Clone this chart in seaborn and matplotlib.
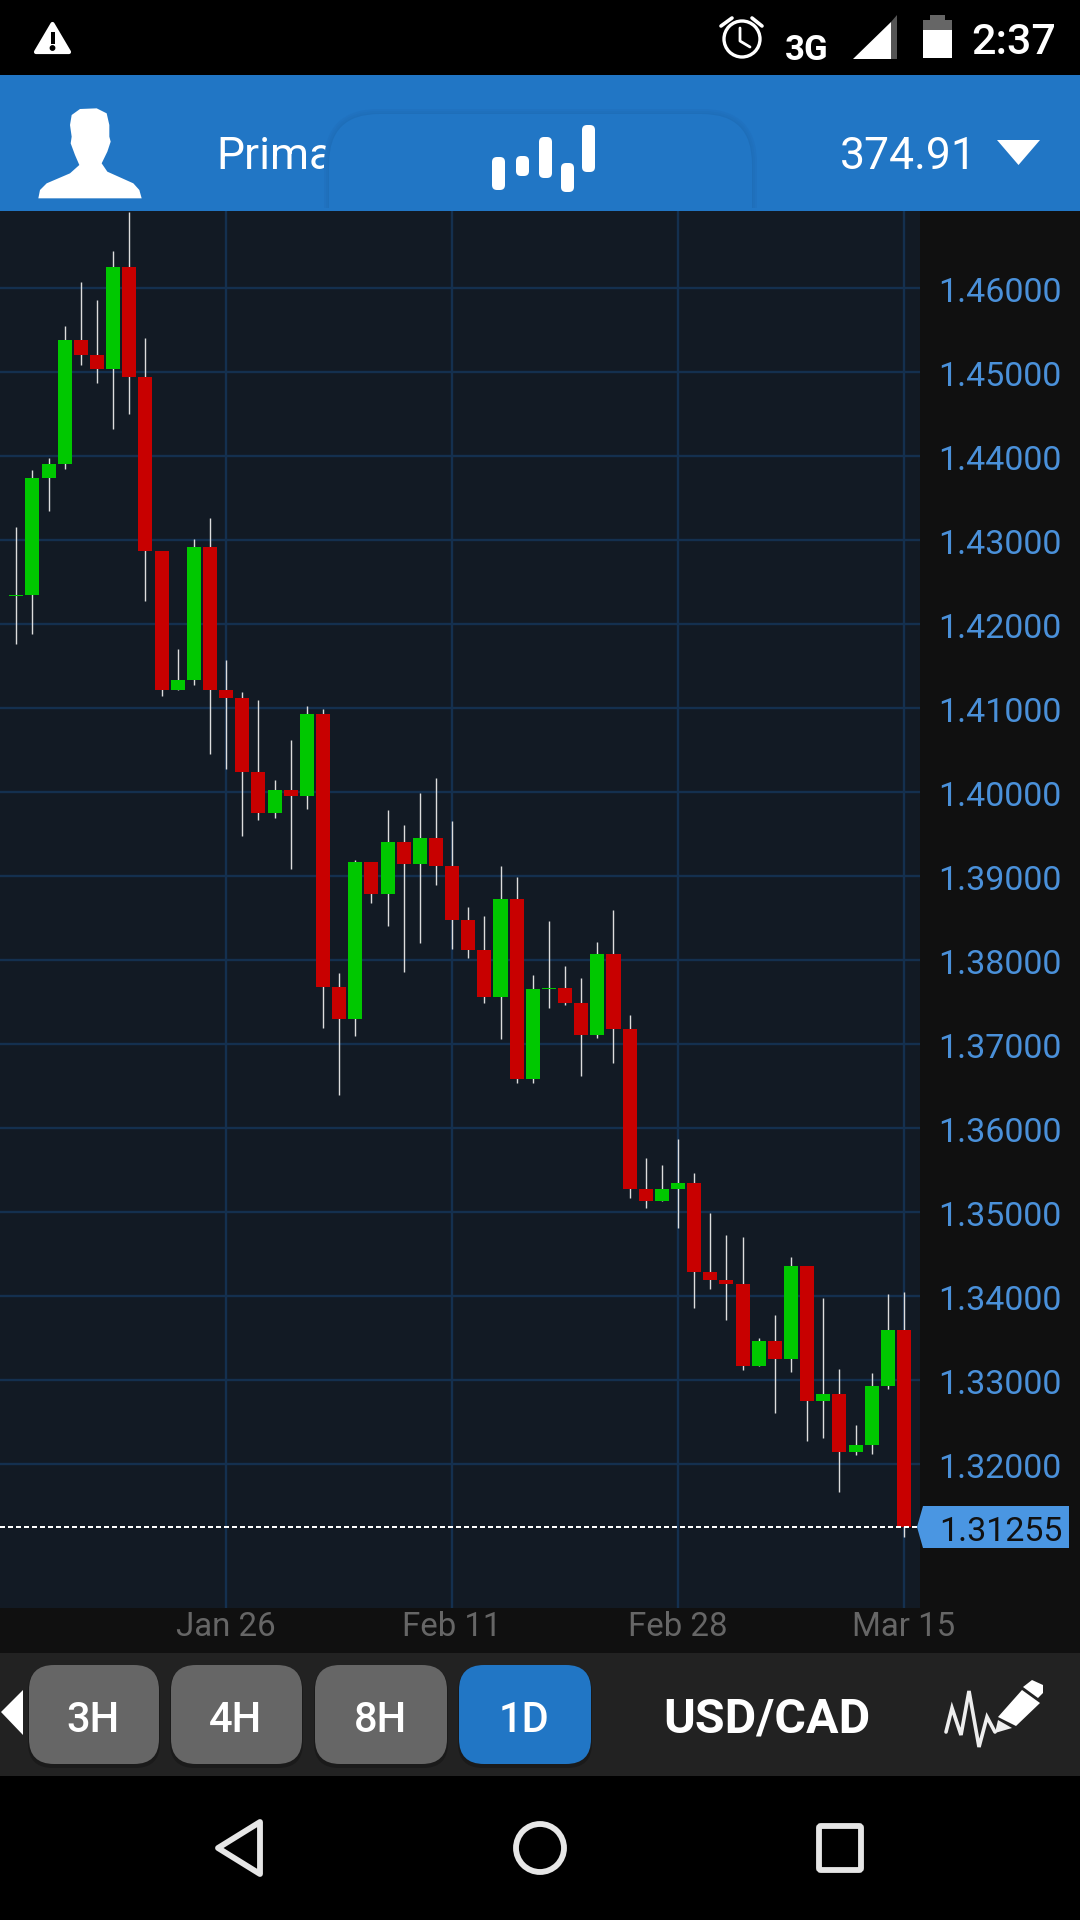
import matplotlib
import pandas as pd

matplotlib.use('Agg')
from matplotlib import pyplot as plt
from matplotlib.patches import Circle, FancyBboxPatch, Polygon, Rectangle
from matplotlib.transforms import ScaledTranslation
import seaborn as sns

# USD/CAD, дневные свечи
opens = [1.42336, 1.42345, 1.43738, 1.43905, 1.45381, 1.45202, 1.45036, 1.46250, 1.44940, 1.42869,
         1.41214, 1.41333, 1.42917, 1.41214, 1.41119, 1.40238, 1.39750, 1.40024, 1.39952, 1.40929,
         1.37679, 1.37298, 1.39167, 1.38786, 1.39405, 1.39143, 1.39452, 1.39119, 1.38476, 1.38119,
         1.37559, 1.38726, 1.36583, 1.37660, 1.37667, 1.37488, 1.37107, 1.38071, 1.37178, 1.35274,
         1.35131, 1.35274, 1.35345, 1.34285, 1.34190, 1.34143, 1.33166, 1.33464, 1.33250, 1.34357,
         1.32750, 1.32833, 1.32142, 1.32226, 1.32928, 1.33595]
closes = [1.42348, 1.43738, 1.43905, 1.45381, 1.45202, 1.45036, 1.46250, 1.44940, 1.42869, 1.41214,
          1.41333, 1.42917, 1.41214, 1.41119, 1.40238, 1.39750, 1.40024, 1.39952, 1.40929, 1.37679,
          1.37298, 1.39167, 1.38786, 1.39405, 1.39143, 1.39452, 1.39119, 1.38476, 1.38119, 1.37559,
          1.38726, 1.36583, 1.37655, 1.37672, 1.37488, 1.37107, 1.38071, 1.37178, 1.35274, 1.35131,
          1.35274, 1.35345, 1.34285, 1.34190, 1.34143, 1.33166, 1.33464, 1.33250, 1.34357, 1.32750,
          1.32833, 1.32142, 1.32226, 1.32928, 1.33595, 1.31255]
highs = [1.43155, 1.43833, 1.43976, 1.45548, 1.46071, 1.45857, 1.46440, 1.46905, 1.45405, 1.42869,
         1.41702, 1.43012, 1.43262, 1.41571, 1.41190, 1.41095, 1.40143, 1.40619, 1.41024, 1.40988,
         1.37845, 1.39190, 1.39167, 1.39786, 1.39607, 1.39988, 1.40167, 1.39655, 1.38631, 1.38524,
         1.39119, 1.38988, 1.37821, 1.38464, 1.37929, 1.37786, 1.38214, 1.38595, 1.37345, 1.35643,
         1.35559, 1.35869, 1.35464, 1.34988, 1.34726, 1.34702, 1.33500, 1.33773, 1.34464, 1.34357,
         1.33976, 1.33131, 1.32464, 1.33083, 1.34024, 1.34047]
lows = [1.41762, 1.41881, 1.43345, 1.43845, 1.45083, 1.44869, 1.44321, 1.44500, 1.42274, 1.41143,
        1.41214, 1.41274, 1.40452, 1.40274, 1.39476, 1.39667, 1.39690, 1.39083, 1.39798, 1.37190,
        1.36393, 1.37095, 1.38679, 1.38405, 1.37857, 1.38202, 1.38893, 1.38131, 1.38024, 1.37488,
        1.37059, 1.36536, 1.36536, 1.37428, 1.37464, 1.36619, 1.37071, 1.36774, 1.35166, 1.35047,
        1.35131, 1.34809, 1.33857, 1.34083, 1.33714, 1.33119, 1.33166, 1.32607, 1.33095, 1.32273,
        1.32309, 1.31666, 1.32107, 1.32119, 1.32893, 1.31131]
price_ticks = [1.46, 1.45, 1.44, 1.43, 1.42, 1.41, 1.40, 1.39, 1.38, 1.37, 1.36, 1.35, 1.34, 1.33, 1.32]
date_pos = [13, 27, 41, 55]
date_labels = ['Jan 26', 'Feb 11', 'Feb 28', 'Mar 15']
last_price = 1.31255

GREEN = '#00c800'
RED = '#c80000'
BG = '#121a24'
GRID = '#14304f'
BLUE = '#2176c5'
TICK_BLUE = '#4a90d9'
TAG_BLUE = '#4a96e2'

sns.set_theme(style='dark', rc={'axes.facecolor': BG, 'figure.facecolor': '#101010'})
plt.rcParams['font.family'] = ['Roboto', 'DejaVu Sans']

df = pd.DataFrame({'i': range(len(opens)), 'open': opens, 'close': closes, 'high': highs, 'low': lows})
df['bottom'] = df[['open', 'close']].min(axis=1)
df['height'] = (df['close'] - df['open']).abs()

fig = plt.figure(figsize=(10.8, 19.2), dpi=100)
ax = fig.add_axes([0, 312 / 1920, 920 / 1080, 1397 / 1920])

ax.vlines(df['i'], df['low'], df['high'], color='#dddddd', lw=1.0, zorder=2)
sns.barplot(data=df, x='i', y='height', bottom=df['bottom'], native_scale=True, width=0.87,
            errorbar=None, color=GREEN, saturation=1, linewidth=0, zorder=3, ax=ax)
for bar, up in zip(ax.patches, df['close'] >= df['open']):
    bar.set_facecolor(GREEN if up else RED)

ax.axhline(last_price, color='white', lw=1.44, dashes=(2.5, 1.5), zorder=4)

ax.set_xlim(-1.01, 55.99)
ax.set_ylim(1.30286, 1.46917)
ax.set_xticks(date_pos, date_labels)
ax.set_yticks(price_ticks, [f'{p:.5f}' for p in price_ticks])
ax.yaxis.tick_right()
ax.set_xlabel('')
ax.set_ylabel('')
ax.grid(True, color=GRID, lw=1.7)
ax.set_axisbelow(True)
ax.tick_params(axis='y', length=0, pad=13.2, labelsize=24.5, labelcolor=TICK_BLUE)
ax.tick_params(axis='x', length=0, pad=2.5, labelsize=23.8, labelcolor='#666666')
# подписи цен чуть ниже линий сетки
for label in ax.get_yticklabels():
    label.set_transform(label.get_transform() + ScaledTranslation(0, -1.2 / 72, fig.dpi_scale_trans))
sns.despine(ax=ax, left=True, bottom=True, right=True, top=True)

# Интерфейс телефона поверх графика, координаты в пикселях экрана
ui = fig.add_axes([0, 0, 1, 1], zorder=10)
ui.set_xlim(0, 1080)
ui.set_ylim(1920, 0)
ui.axis('off')
ui.patch.set_alpha(0)


def rect(x0, y0, x1, y1, color, z=1):
    ui.add_patch(Rectangle((x0, y0), x1 - x0, y1 - y0, color=color, lw=0, zorder=z))


def poly(points, color, z=3, **kw):
    ui.add_patch(Polygon(points, closed=True, facecolor=color, edgecolor='none', zorder=z, **kw))


def round_box(x0, y0, x1, y1, r, color, z=2, ec='none', lw=0):
    p = FancyBboxPatch((x0 + r, y0 + r), x1 - x0 - 2 * r, y1 - y0 - 2 * r, boxstyle=f'round,pad={r},rounding_size={r}',
                       facecolor=color, edgecolor=ec, lw=lw, zorder=z)
    ui.add_patch(p)
    return p


# статус-бар
rect(0, 0, 1080, 75, 'black')
ui.add_patch(Polygon([(36, 52), (69, 52), (52.5, 24)], closed=True, facecolor='white', edgecolor='white',
                     lw=3, joinstyle='round', zorder=3))
rect(50.5, 32, 54.5, 44, 'black', 4)
ui.add_patch(Circle((52.5, 48), 2.2, color='black', zorder=4))
ui.add_patch(Circle((742, 39), 18, facecolor='none', edgecolor='white', lw=2.4, zorder=3))
ui.plot([721, 732], [26, 18], color='white', lw=2.6, zorder=3)
ui.plot([752, 762], [18, 26], color='white', lw=2.6, zorder=3)
ui.plot([740, 740, 750], [28, 41, 47], color='white', lw=2, zorder=3)
ui.text(807, 51, '3G', color='white', fontsize=25, fontweight='bold', ha='center', va='center', zorder=3)
poly([(853, 59), (891, 22), (891, 59)], 'white')
poly([(891, 22), (897, 15), (897, 59), (891, 59)], '#555555')
rect(930, 15, 945, 20, '#666666', 3)
rect(923, 20, 952, 30, '#666666', 3)
rect(923, 30, 952, 58, 'white', 3)
ui.text(1014, 42, '2:37', color='white', fontsize=31, fontweight='medium', ha='center', va='center', zorder=3)

# шапка
rect(0, 75, 1080, 211, BLUE)
person = [(55, 310), (60, 285), (80, 265), (150, 235), (178, 210), (165, 180), (152, 145), (155, 125), (150, 90),
          (155, 60), (180, 42), (230, 40), (260, 55), (268, 90), (268, 125), (272, 140), (262, 170), (245, 205),
          (262, 230), (340, 265), (358, 285), (365, 310)]
poly([(20 + x / 3, 95 + y / 3) for x, y in person], 'white', lw=0)
ui.text(216, 157, 'Prima', color='white', fontsize=32, ha='left', va='center', zorder=2)
header_clip = Rectangle((300, 75), 500, 133, transform=ui.transData)
for grow, col in [(5, '#2072c0'), (3, '#1f70bc'), (1, '#1e6eb9')]:
    shadow = round_box(329 - grow, 114 - grow, 752 + grow, 300, 50 + grow, col, 3)
    shadow.set_clip_path(header_clip)
tab = round_box(329, 114, 752, 300, 50, BLUE, 4)
tab.set_clip_path(header_clip)
for x0, y0, x1, y1 in [(492, 157, 505, 190), (516, 156, 529, 176), (539, 137, 552, 178),
                       (561, 163, 574, 192), (582, 125, 595, 172)]:
    round_box(x0, y0, x1, y1, 5, 'white', 5)
ui.text(908, 157, '374.91', color='white', fontsize=32, ha='center', va='center', zorder=3)
poly([(997, 140), (1040, 140), (1018.5, 165)], 'white')

# метка текущей цены
poly([(917, 1527), (923, 1506), (1069, 1506), (1069, 1548), (923, 1548)], TAG_BLUE)
ui.text(1001, 1532, f'{last_price:.5f}', color='#111111', fontsize=24.5, ha='center', va='center', zorder=4)

# нижняя панель
rect(0, 1653, 1080, 1776, '#222222')
poly([(1, 1712), (23, 1690), (23, 1735)], 'white')
buttons = [(29, 159, '3H', '#666666'), (171, 302, '4H', '#666666'), (315, 447, '8H', '#666666'), (459, 591, '1D', BLUE)]
for x0, x1, label, col in buttons:
    round_box(x0 - 1, 1666, x1 + 1, 1768, 25, '#1a1a1a', 2)
    round_box(x0, 1665, x1, 1764, 25, col, 3)
    ui.text((x0 + x1) / 2 - 0.5, 1720, label, color='white', fontsize=30, fontweight='medium', ha='center', va='center', zorder=4)
ui.text(767, 1720, 'USD/CAD', color='white', fontsize=34.8, fontweight='bold', ha='center', va='center', zorder=3)
ui.plot([946, 952, 961, 969, 979, 987, 995], [1732, 1708, 1735, 1691, 1747, 1717, 1732], color='#eeeeee', lw=2.6,
        solid_joinstyle='miter', zorder=3)
poly([(998, 1717), (1022, 1690), (1040, 1703), (1016, 1726)], 'white')
poly([(1023, 1687), (1032, 1680), (1043, 1685), (1043, 1693), (1038, 1698)], 'white')
poly([(998, 1720), (1012, 1728), (995, 1733)], '#eeeeee')

# кнопки навигации
rect(0, 1776, 1080, 1920, 'black')
ui.add_patch(Polygon([(260, 1822), (218, 1848), (260, 1874)], closed=True, facecolor='none', edgecolor='#e6e6e6',
                     lw=4.2, joinstyle='round', zorder=3))
ui.add_patch(Circle((540, 1848), 24, facecolor='none', edgecolor='#e6e6e6', lw=4.2, zorder=3))
round_box(819, 1826, 861, 1870, 2, 'none', 3, ec='#e6e6e6', lw=4.2)

fig.savefig('out.png', dpi=100, facecolor=fig.get_facecolor())
